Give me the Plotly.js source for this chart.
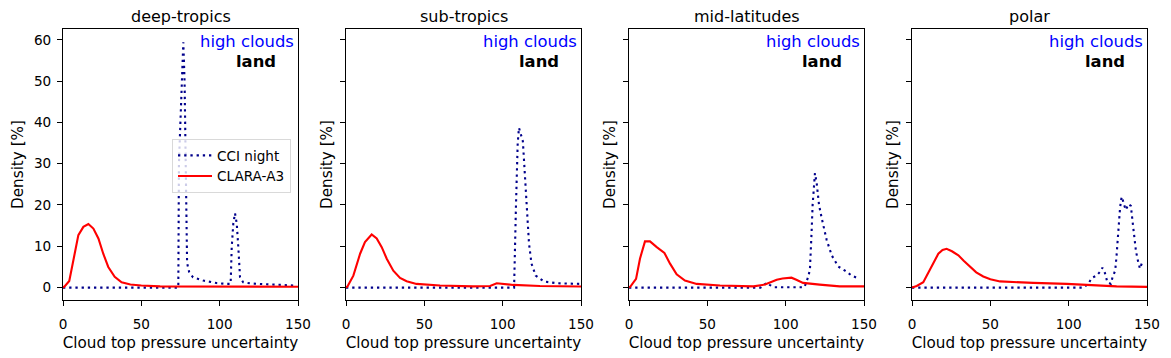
<!DOCTYPE html>
<html>
<head>
<meta charset="utf-8">
<script src="https://cdn.plot.ly/plotly-3.0.1.min.js"></script>
<style>html,body{margin:0;padding:0;background:#fff;}#chart{width:1171px;height:358px;}</style>
</head>
<body>
<div id="chart"></div>
<script>
// ---- data ----
const panelTitles = ["deep-tropics", "sub-tropics", "mid-latitudes", "polar"];
const seriesNames = ["CCI night", "CLARA-A3"];
const cornerLabel1 = "high clouds";
const cornerLabel2 = "land";
const xLabel = "Cloud top pressure uncertainty";
const yLabel = "Density [%]";

// deep-tropics
const cciTropicsX = [0, 73.6, 74.0, 75.5, 76.8, 77.6, 78.4, 79.2, 80.5, 83, 89.6, 98, 104.5, 107, 107.7, 108.7, 109.8, 110.9, 111.9, 113, 115, 120, 130, 140, 148];
const cciTropicsY = [0, 0, 30, 45, 59.4, 50, 28, 6, 3.8, 2.5, 1.7, 1.1, 0.9, 0.9, 9.8, 15.5, 18, 15.5, 9.8, 2.5, 1.3, 1.0, 0.8, 0.6, 0.5];
const claraTropicsX = [0, 1, 4, 6, 7.7, 9.8, 13, 16.2, 19.4, 22.6, 25.7, 28.9, 33, 37.4, 43, 50, 62, 90, 120, 150];
const claraTropicsY = [0, 0.3, 1.6, 5.5, 9, 12.7, 14.7, 15.4, 14.3, 11.9, 8.2, 5.0, 2.6, 1.3, 0.75, 0.5, 0.3, 0.25, 0.25, 0.2];

// sub-tropics
const cciSubX = [0, 107.3, 108.5, 109.6, 110.4, 111.9, 112.9, 113.6, 114.7, 115.8, 116.8, 118.4, 121.1, 126.4, 135, 148.9];
const cciSubY = [0, 0, 20, 35, 38.7, 37, 35.4, 31, 22.9, 15.5, 10.7, 5.8, 2.9, 1.46, 1.05, 0.9];
const claraSubX = [0, 1, 4.7, 9, 12.1, 16.4, 19.6, 22.8, 26, 30.2, 34.5, 38.7, 45, 60, 81, 92, 96.2, 100.5, 106.8, 123.8, 150];
const claraSubY = [0, 0.3, 2.9, 8.2, 11, 12.85, 11.9, 9.8, 7, 4.1, 2.35, 1.55, 0.9, 0.5, 0.3, 0.4, 1.05, 0.85, 0.65, 0.4, 0.25];

// mid-latitudes
const cciMidX = [0, 84, 86, 88, 90, 93, 112, 114.5, 115.5, 116.2, 116.6, 117.2, 118.1, 118.7, 119.8, 121.3, 123, 126.2, 129.4, 133.6, 137.9, 142.2, 145.8];
const cciMidY = [0, 0, 0.6, 1.2, 0.6, 0.1, 0.1, 2.7, 4.5, 9, 13.9, 20, 25.3, 27.7, 25.3, 20, 16.8, 11.5, 7.8, 5.1, 4.1, 2.9, 2.3];
const claraMidX = [0, 1, 4.5, 7, 10.2, 13.4, 17.7, 22.6, 26.2, 30.4, 35.7, 43.2, 58.1, 79.4, 86.8, 94.3, 98, 103.7, 106.8, 111.1, 121.7, 134.5, 150];
const claraMidY = [0, 0.3, 2.1, 7, 11.2, 11.2, 9.8, 8.4, 5.8, 3.2, 1.7, 0.9, 0.5, 0.3, 0.73, 1.9, 2.2, 2.4, 1.9, 1.15, 0.73, 0.3, 0.3];

// polar
const cciPolarX = [0, 109.4, 112.5, 114.7, 117.9, 120.4, 121.5, 122.8, 124.7, 126.9, 128, 129.7, 130.5, 131.2, 131.8, 132.7, 133.4, 134, 135.4, 136.5, 138.1, 139.7, 140.7, 141.8, 142.9, 143.9, 145.5, 146.7, 147.8];
const cciPolarY = [0, 0, 0.9, 2.35, 2.9, 4, 4.8, 4, 1.3, 0.9, 2.5, 4.1, 7.4, 11.5, 15.5, 18.8, 21.2, 22, 20, 18.8, 20.2, 19.8, 16.3, 12.3, 9, 7, 4.6, 5.9, 6.2];
const claraPolarX = [0, 3, 7.2, 12.6, 16.8, 19.5, 22.1, 25.5, 29.6, 33, 37, 41, 45.5, 50, 56.2, 65, 77.4, 98.7, 111.5, 130.6, 150];
const claraPolarY = [0, 0.4, 1.3, 5, 8.2, 9.1, 9.4, 8.8, 7.8, 6.5, 5, 3.7, 2.7, 2, 1.5, 1.3, 1.15, 0.9, 0.65, 0.3, 0.17];

const xTickVals = [0, 50, 100, 150];
const yTickVals = [0, 10, 20, 30, 40, 50, 60];

// ---- build figure ----
const cciX = [cciTropicsX, cciSubX, cciMidX, cciPolarX];
const cciY = [cciTropicsY, cciSubY, cciMidY, cciPolarY];
const claraX = [claraTropicsX, claraSubX, claraMidX, claraPolarX];
const claraY = [claraTropicsY, claraSubY, claraMidY, claraPolarY];

const W = 1171, H = 358;
const FONT = "DejaVu Sans";
const panelLeft = [63, 346, 629, 912];
const panelW = 235;
const plotTop = 29, plotBottom = 300;

const traces = [];
const layout = {
  width: W, height: H,
  margin: {l: 0, r: 0, t: 0, b: 0},
  paper_bgcolor: "#ffffff",
  plot_bgcolor: "#ffffff",
  font: {family: FONT, size: 14, color: "#000"},
  showlegend: true,
  legend: {
    x: 172 / W, y: 1 - 139 / H, xanchor: "left", yanchor: "top",
    bgcolor: "rgba(255,255,255,0.8)", bordercolor: "#d9d9d9", borderwidth: 1,
    font: {family: FONT, size: 13.6, color: "#000"},
    itemwidth: 34, tracegroupgap: 0
  },
  annotations: []
};

for (let i = 0; i < 4; i++) {
  const sfx = i === 0 ? "" : String(i + 1);
  traces.push({
    type: "scatter", mode: "lines", x: cciX[i], y: cciY[i],
    name: seriesNames[0], showlegend: i === 0,
    xaxis: "x" + sfx, yaxis: "y" + sfx,
    line: {color: "#00008b", width: 2.1, dash: "2.3px,3.9px"}
  });
  traces.push({
    type: "scatter", mode: "lines", x: claraX[i], y: claraY[i],
    name: seriesNames[1], showlegend: i === 0,
    xaxis: "x" + sfx, yaxis: "y" + sfx,
    line: {color: "#ff0000", width: 2.1}
  });

  const x0 = panelLeft[i] / W, x1 = (panelLeft[i] + panelW) / W;
  layout["xaxis" + sfx] = {
    domain: [x0, x1], anchor: "y" + sfx, range: [0, 150],
    tickvals: xTickVals, ticktext: xTickVals.map(String),
    ticks: "outside", ticklen: 5, tickwidth: 1, tickcolor: "#000",
    ticklabelstandoff: 7,
    showline: true, mirror: true, linecolor: "#000", linewidth: 1,
    showgrid: false, zeroline: false,
    tickfont: {family: FONT, size: 13.6, color: "#000"},
    title: {text: xLabel, font: {family: FONT, size: 15.2, color: "#000"}, standoff: 6}
  };
  layout["yaxis" + sfx] = {
    domain: [1 - plotBottom / H, 1 - plotTop / H], anchor: "x" + sfx,
    range: [-3, 62.6],
    tickvals: yTickVals, ticktext: yTickVals.map(String),
    showticklabels: i === 0,
    ticks: "outside", ticklen: 5, tickwidth: 1, tickcolor: "#000",
    ticklabelstandoff: 3,
    showline: true, mirror: true, linecolor: "#000", linewidth: 1,
    showgrid: false, zeroline: false,
    tickfont: {family: FONT, size: 13.6, color: "#000"},
    title: {text: yLabel, font: {family: FONT, size: 15.2, color: "#000"}, standoff: i === 0 ? 6 : 3}
  };
  if (i > 0) layout["yaxis" + sfx].matches = "y";

  const cx = (panelLeft[i] + panelW / 2) / W;
  layout.annotations.push({
    xref: "paper", yref: "paper", x: cx, y: 1 - 17 / H,
    xanchor: "center", yanchor: "middle", showarrow: false,
    text: panelTitles[i], font: {family: FONT, size: 16, color: "#000"}
  });
  layout.annotations.push({
    xref: "paper", yref: "paper", x: (panelLeft[i] + 0.98 * panelW + 3) / W, y: 1 - 41 / H,
    xanchor: "right", yanchor: "middle", showarrow: false,
    text: cornerLabel1, font: {family: FONT, size: 16.4, color: "#0000ff"}
  });
  layout.annotations.push({
    xref: "paper", yref: "paper", x: (panelLeft[i] + 0.90 * panelW + 3) / W, y: 1 - 62 / H,
    xanchor: "right", yanchor: "middle", showarrow: false,
    text: "<b>" + cornerLabel2 + "</b>", font: {family: FONT, size: 16.4, color: "#000"}
  });
}

Plotly.newPlot("chart", traces, layout, {displayModeBar: false, staticPlot: true});
</script>
</body>
</html>
